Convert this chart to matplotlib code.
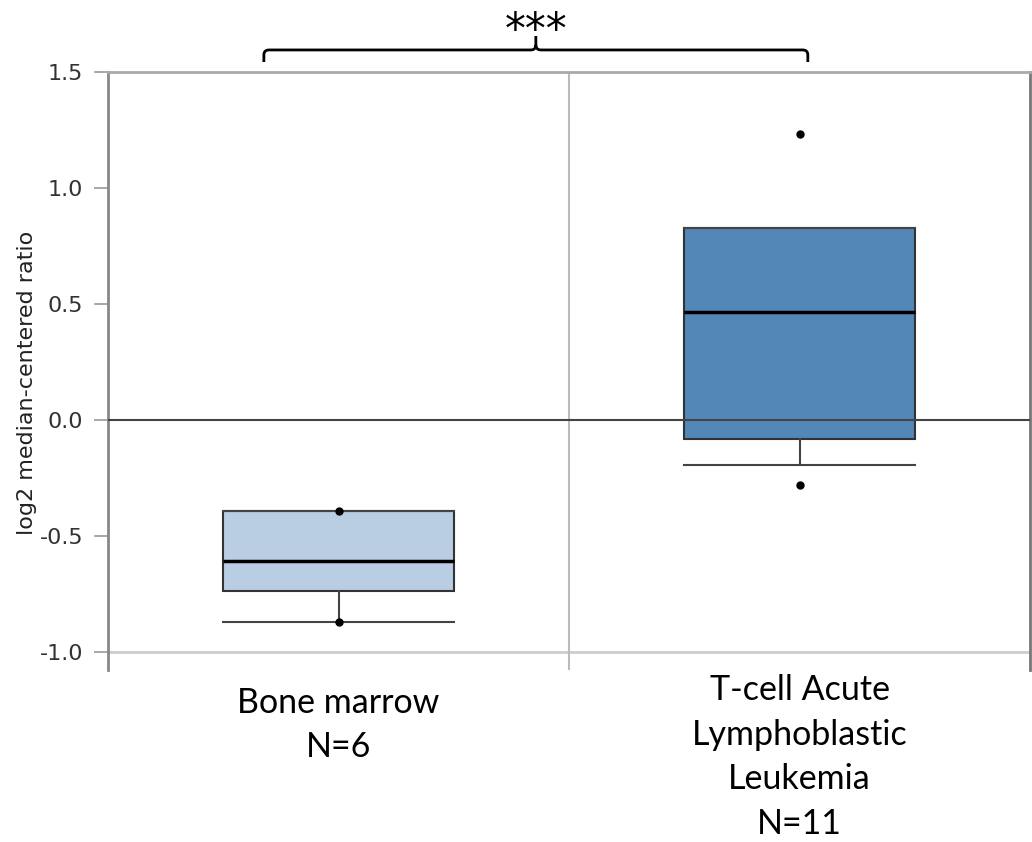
import matplotlib
matplotlib.use("Agg")
import matplotlib.pyplot as plt
from matplotlib.path import Path
from matplotlib.patches import PathPatch

plt.rcParams['axes.unicode_minus'] = False

# box statistics (log2 median-centered ratio)
groups = ["Bone marrow\nN=6", "T-cell Acute\nLymphoblastic\nLeukemia\nN=11"]
q1 = [-0.737, -0.082]
med = [-0.608, 0.466]
q3 = [-0.392, 0.826]
whislo = [-0.871, -0.195]
whishi = [-0.392, 0.826]
extremes = [[-0.392, -0.871], [1.233, -0.281]]
box_colors = ["#b9cee2", "#5387b8"]
y_ticks = [-1.0, -0.5, 0.0, 0.5, 1.0, 1.5]

fig = plt.figure(figsize=(10.32, 8.42), dpi=100)
ax = fig.add_axes([0.1047, 0.2043, 0.8934, 0.7102])

stats = []
for i in range(len(groups)):
    stats.append(dict(med=med[i], q1=q1[i], q3=q3[i], whislo=whislo[i],
                      whishi=whishi[i], fliers=extremes[i]))

pos = [0.5, 1.5]
bp = ax.bxp(stats, positions=pos, widths=0.5, capwidths=0.5, patch_artist=True,
            boxprops=dict(edgecolor="#333333", linewidth=1.5),
            medianprops=dict(color="black", linewidth=2.5),
            whiskerprops=dict(color="#444444", linewidth=1.5),
            capprops=dict(color="#444444", linewidth=1.5),
            flierprops=dict(marker="o", markersize=5, markerfacecolor="black",
                            markeredgecolor="black", zorder=6))
for patch, c in zip(bp["boxes"], box_colors):
    patch.set_facecolor(c)

ax.set_xlim(0, 2)
ax.set_ylim(-1.078, 1.5)

# reference lines
ax.axhline(0, color="#444444", linewidth=1.5, zorder=5)
ax.axhline(-1.0, color="#cccccc", linewidth=2, zorder=0)
ax.axvline(1, color="#bbbbbb", linewidth=1.5, zorder=0)

ax.spines["bottom"].set_visible(False)
ax.spines["left"].set_color("#888888")
ax.spines["left"].set_linewidth(2)
ax.spines["top"].set_color("#aaaaaa")
ax.spines["top"].set_linewidth(2)
ax.spines["right"].set_color("#777777")
ax.spines["right"].set_linewidth(2)

ax.set_yticks(y_ticks, labels=["%.1f" % v for v in y_ticks])
ax.tick_params(axis="y", length=10, width=1.2, color="#999999", pad=8,
               labelsize=16, labelcolor="#333333")
ax.set_ylabel("log2 median-centered ratio", fontsize=16, color="#222222")
ax.yaxis.set_label_coords(-0.077, 0.48)

# group names under each box, each with its own top offset
ax.set_xticks([])
label_tops = [-0.028, -0.007]
for x, name, yt in zip(pos, groups, label_tops):
    ax.text(x, yt, name, transform=ax.get_xaxis_transform(), ha="center", va="top",
            fontsize=24.5, fontfamily="Lato", linespacing=1.48, multialignment="center")

# significance bracket above both groups
x0, xm, x1 = 0.338, 0.928, 1.518
yb, yh, yt = 1.543, 1.595, 1.655
rx, ry = 0.011, 0.022
left = [(x0, yb), (x0, yh - ry), (x0, yh), (x0 + rx, yh), (xm - rx, yh),
        (xm, yh), (xm, yh + ry), (xm, yt)]
right = [(xm, yh + ry), (xm, yh), (xm + rx, yh), (x1 - rx, yh), (x1, yh),
         (x1, yh - ry), (x1, yb)]
codes_l = [Path.MOVETO, Path.LINETO, Path.CURVE3, Path.CURVE3, Path.LINETO,
           Path.CURVE3, Path.CURVE3, Path.LINETO]
codes_r = [Path.MOVETO, Path.CURVE3, Path.CURVE3, Path.LINETO, Path.CURVE3,
           Path.CURVE3, Path.LINETO]
brace = Path(left + right, codes_l + codes_r)
ax.add_patch(PathPatch(brace, facecolor="none", edgecolor="black", linewidth=2,
                       clip_on=False, transform=ax.transData))
ax.text(xm, 1.627, "***", ha="center", va="baseline", fontsize=30,
        fontfamily="DejaVu Sans", clip_on=False)

fig.savefig("out.png", dpi=100)
